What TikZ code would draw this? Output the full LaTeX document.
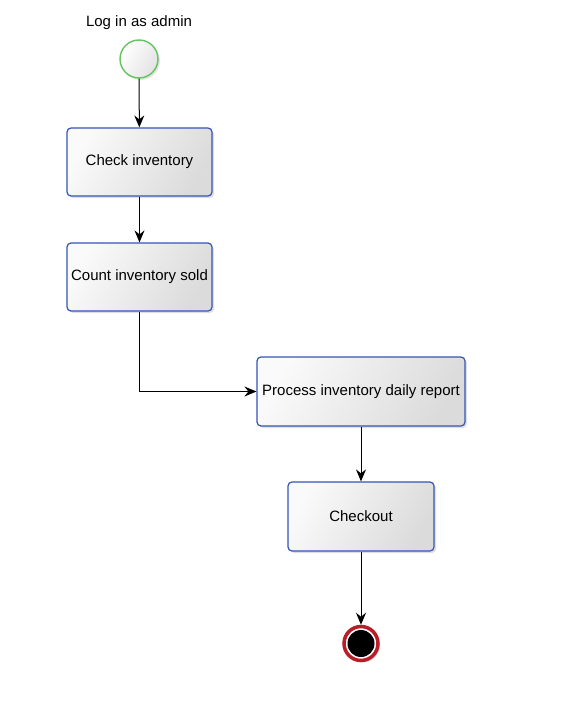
\documentclass[tikz,border=0pt]{standalone}
\usepackage{fontspec}
\setmainfont{Liberation Sans}
\usetikzlibrary{arrows.meta,shadows,positioning}
\definecolor{boxblue}{RGB}{52,84,184}
\definecolor{startgreen}{RGB}{100,195,95}
\definecolor{endred}{RGB}{185,30,40}
\tikzset{
  act/.style={draw=boxblue, line width=1.2pt, rounded corners=4pt,
    left color=gray!4, right color=gray!28, shading angle=60,
    drop shadow={shadow xshift=2pt, shadow yshift=-2pt, opacity=0.25, fill=gray},
    font=\fontsize{15}{18}\selectfont, inner sep=0pt, anchor=center},
  flow/.style={line width=1pt, -{Stealth[length=12pt,width=10pt,inset=4pt]}},
  lbl/.style={font=\fontsize{15}{18}\selectfont}
}
\begin{document}
\begin{tikzpicture}[x=1pt,y=-1pt]
\useasboundingbox (0,0) rectangle (570,711);
\node[lbl] (lab) at (139,23) {Log in as admin};
\node[circle, draw=startgreen, line width=1.4pt, minimum size=38pt, inner sep=0pt,
  left color=white, right color=gray!22, shading angle=60,
  drop shadow={shadow xshift=2pt, shadow yshift=-2pt, opacity=0.2, fill=gray}] (start) at (139,59) {};
\node[act, minimum width=145pt, minimum height=68pt] (b1) at (139.5,162) {Check inventory};
\node[act, minimum width=145pt, minimum height=68pt] (b2) at (139.5,277) {Count inventory sold};
\node[act, minimum width=208pt, minimum height=69pt] (b3) at (361,391.5) {Process inventory daily report};
\node[act, minimum width=146pt, minimum height=69pt] (b4) at (361,516.5) {Checkout};
\node[circle, draw=endred, line width=3.5pt, fill=white, minimum size=34pt, inner sep=0pt,
  drop shadow={shadow xshift=2pt, shadow yshift=-2pt, opacity=0.25, fill=gray}] (end) at (361,643.5) {};
\fill[black] (end.center) circle (13.5pt);
\draw[flow] (start) -- (b1);
\draw[flow] (b1) -- (b2);
\draw[flow] (b2.south) |- (b3.west);
\draw[flow] (b3) -- (b4);
\draw[flow] (b4) -- (end);
\end{tikzpicture}
\end{document}
